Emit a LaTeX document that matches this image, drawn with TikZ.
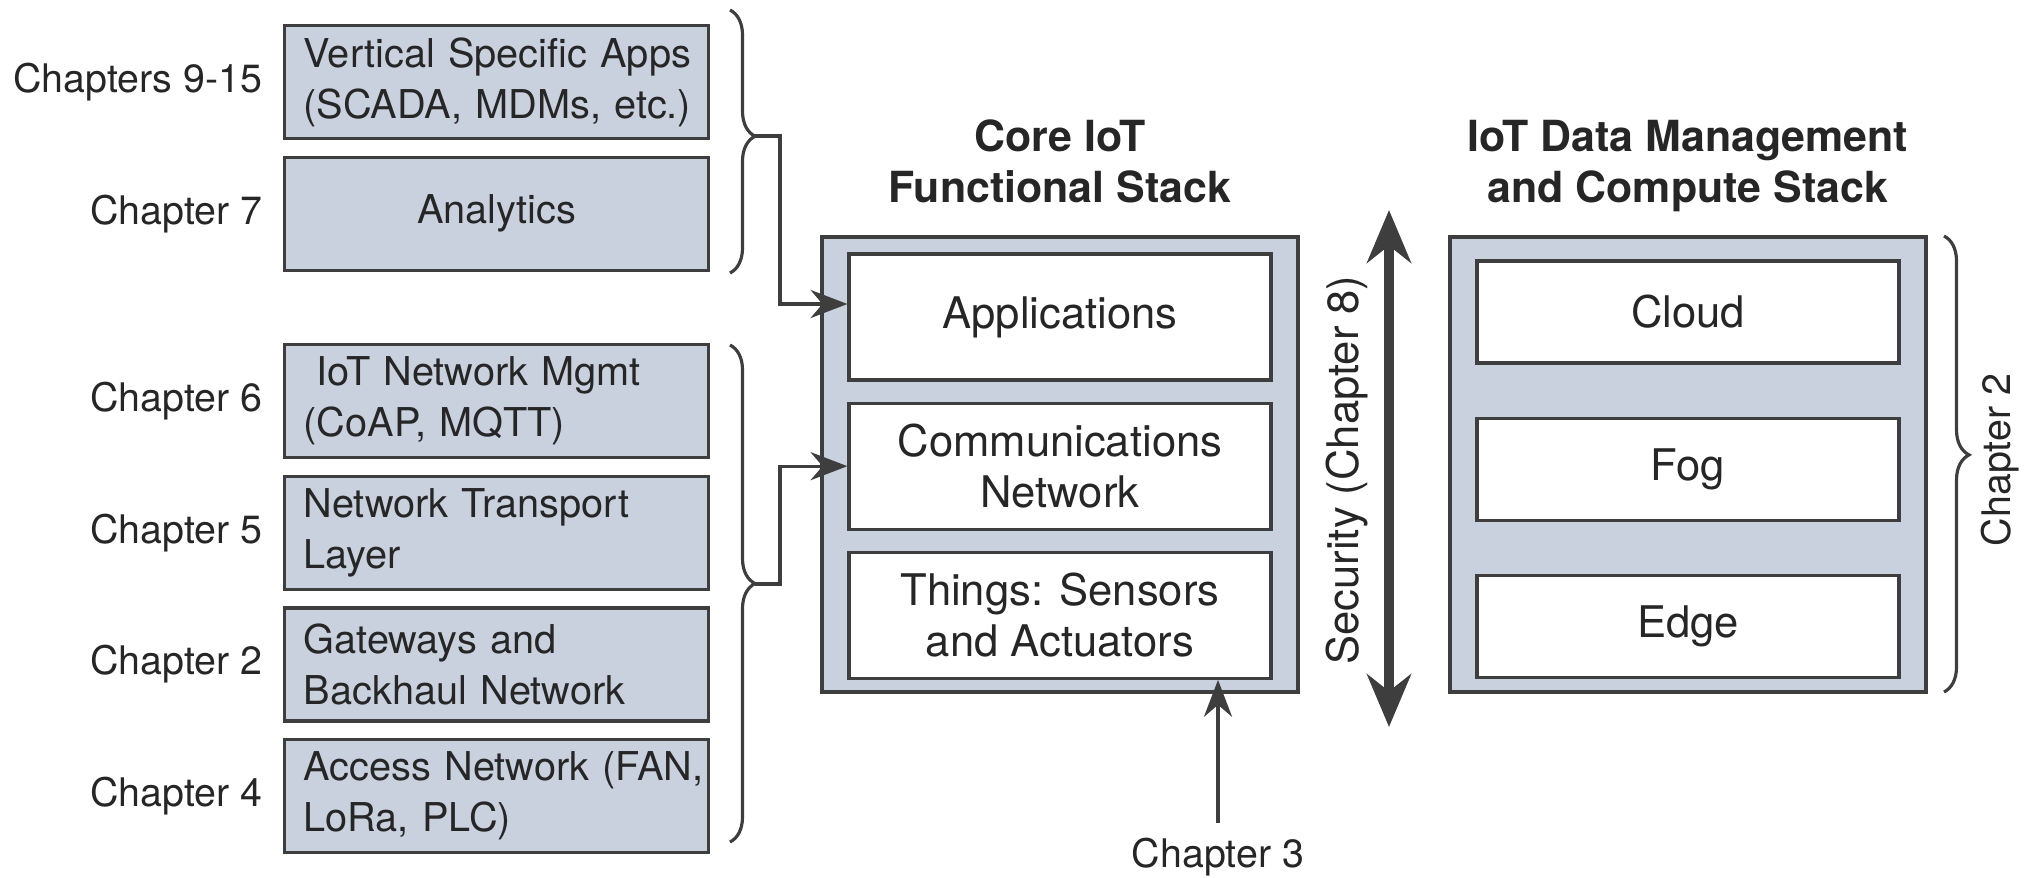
\documentclass[tikz,border=0pt]{standalone}
\usepackage{fontspec}
\setmainfont{TeX Gyre Heros}
\usetikzlibrary{positioning,arrows.meta,decorations.pathreplacing}
\definecolor{stackfill}{RGB}{201,209,222}
\definecolor{stackline}{RGB}{62,62,62}
\definecolor{inktext}{RGB}{38,38,38}
\tikzset{
	layer/.style = {draw = stackline, line width = 0.9pt, fill = stackfill,
		minimum width = 4.24cm, minimum height = 1.13cm, text width = 3.86cm,
		inner xsep = 0.19cm, inner ysep = 2pt, align = left, text = inktext,
		font = \fontsize{11.3}{14.5}\selectfont},
	chap/.style = {inner sep = 0pt, text = inktext, font = \fontsize{11.2}{14}\selectfont},
	stack/.style = {draw = stackline, line width = 0.9pt, fill = stackfill,
		minimum width = 4.76cm, minimum height = 4.55cm},
	block/.style = {draw = stackline, line width = 0.9pt, fill = white,
		minimum width = 4.22cm, align = center, text = inktext,
		font = \fontsize{12.4}{14.5}\selectfont},
	stacktitle/.style = {inner sep = 0pt, align = center, text = inktext,
		font = \bfseries\fontsize{12.2}{14.5}\selectfont},
	grp/.style = {draw = stackline, line width = 0.9pt, decorate,
		decoration = {brace, amplitude = 0.25cm, aspect = 0.48}},
	flow/.style = {draw = stackline, line width = 0.95pt,
		-{Stealth[length = 10.5pt, width = 8pt]}},
	secarrow/.style = {draw = stackline, line width = 2.8pt,
		{Stealth[length = 15pt, width = 12.5pt]}-{Stealth[length = 15pt, width = 12.5pt]}}
}
\hfuzz=20pt
\begin{document}
\begin{tikzpicture}
	\useasboundingbox (0,0) rectangle (20.26,-8.77);
	
	% left column
	\node[layer, anchor = north west] (vsa) at (2.83,-0.24) {\mbox{Vertical Specific Apps}\\\mbox{(SCADA, MDMs, etc.)}};
	\node[layer, align = center, below = 0.155cm of vsa] (ana) {Analytics};
	\node[layer, anchor = north west] (nm) at (2.83,-3.43) {\ IoT Network Mgmt\\(CoAP, MQTT)};
	\node[layer, below = 0.155cm of nm] (nt) {Network Transport\\Layer};
	\node[layer, below = 0.155cm of nt] (gw) {Gateways and\\Backhaul Network};
	\node[layer, below = 0.155cm of gw] (acc) {\mbox{Access Network (FAN,}\\LoRa, PLC)};
	
	% chapter labels
	\foreach \lyr/\lbl in {vsa/Chapters 9-15, ana/Chapter 7, nm/Chapter 6, nt/Chapter 5, gw/Chapter 2, acc/Chapter 4}
		\node[chap, left = 0.2cm of \lyr] (lbl-\lyr) {\lbl};
	
	% braces
	\draw[grp] (7.30,-0.10) -- (7.30,-2.73);
	\draw[grp] (7.30,-3.45) -- (7.30,-8.42);
	\coordinate (b1) at (7.55,-1.36);
	\coordinate (b2) at (7.55,-5.84);
	
	% core stack
	\node[stack] (core) at (10.60,-4.645) {};
	\node[block, minimum height = 1.26cm, below = 0.17cm of core.north] (app) {Applications};
	\node[block, minimum height = 1.26cm, below = 0.2cm of app] (comm) {Communications\\Network};
	\node[block, minimum height = 1.26cm, below = 0.2cm of comm] (thg) {Things: Sensors\\and Actuators};
	\node[stacktitle, above = 0.17cm of core] (coretitle) {Core IoT\\Functional Stack\strut};
	
	% data stack
	\node[stack] (data) at (16.88,-4.645) {};
	\node[block, minimum height = 1.02cm, below = 0.24cm of data.north] (cloud) {Cloud};
	\node[block, minimum height = 1.02cm, below = 0.52cm of cloud] (fog) {Fog};
	\node[block, minimum height = 1.02cm, below = 0.52cm of fog] (edge) {Edge};
	\node[stacktitle, above = 0.17cm of data] (datatitle) {IoT Data Management\\and Compute Stack\strut};
	
	% input
	\draw[flow] (b1) -- ++(0.25,0) |- ([yshift = 0.13cm]app.west);
	\draw[flow] (b2) -- ++(0.25,0) |- (comm.west);
	
	% security
	\coordinate (sectop) at (13.89,-2.10);
	\coordinate (secbot) at (13.89,-7.27);
	\draw[secarrow] (sectop) -- (secbot);
	\node[chap, rotate = 90, font = \fontsize{12.4}{14}\selectfont] (sec) at (13.47,-4.70) {Security (Chapter 8)};
	
	% things
	\node[chap, inner sep = 0.14cm, anchor = base] (ch3) at (12.18,-8.67) {Chapter 3};
	\draw[flow] (ch3.north) -- (ch3.north |- thg.south);
	
	% compute
	\draw[grp] (19.44,-2.36) -- (19.44,-6.92);
	\node[chap, rotate = 90] (ch2) at (20.00,-4.60) {Chapter 2};
	
\end{tikzpicture}
\end{document}
